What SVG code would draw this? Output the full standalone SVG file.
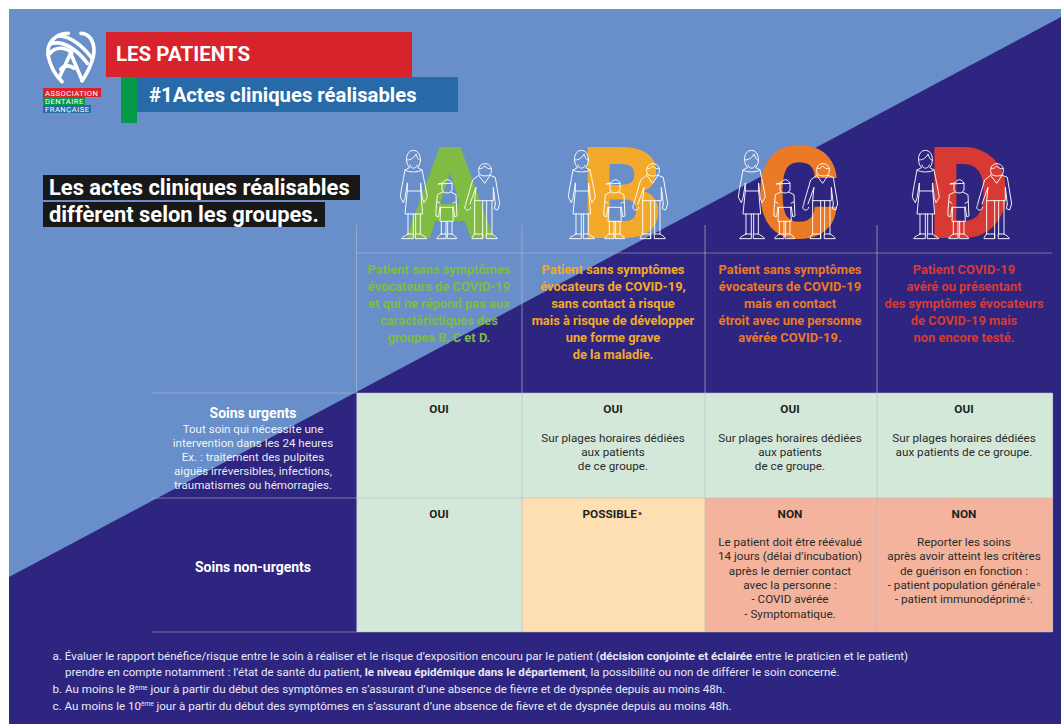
<svg xmlns="http://www.w3.org/2000/svg" xmlns:xlink="http://www.w3.org/1999/xlink" width="1061" height="724" viewBox="0 0 1061 724">
<style>
text{font-family:Roboto,"Liberation Sans",sans-serif}
.c{text-anchor:middle}
.b{font-weight:700}
.col{font-size:12.9px;font-weight:700;text-anchor:middle}
.cell{font-size:11.7px;fill:#2b2b2b;text-anchor:middle}
.yn{font-size:11.8px;font-weight:700;fill:#1f1f1f;text-anchor:middle}
.lab{fill:#fff;text-anchor:middle}
.fn{font-size:11.6px;fill:#e9e9f4}
.ltr{font-size:128px;font-weight:900;text-anchor:middle}
.fig{fill:none;stroke:#fff;stroke-width:2.8;stroke-linejoin:round;stroke-linecap:round}
.grid{stroke:#b8bcc4;stroke-opacity:.55;stroke-width:1.2;fill:none}
.logo{fill:none;stroke:#fff;stroke-width:11;stroke-linecap:round}
</style>
<defs>
<g id="family" class="fig" transform="translate(350 130) scale(.3333)">
<path d="M178 112C165 100 165 62 190 61C215 61 216 100 204 112M172 90C185 90 195 80 198 72C202 84 206 90 212 92M180 105C183 118 198 118 202 105"/>
<path d="M178 113L165 120C160 150 153 180 151 202L160 218L165 205L172 160M204 113L216 120C222 150 229 180 232 202L222 218L217 205L212 160M165 120C175 128 205 128 216 120M172 160L172 183L212 183L212 160M172 183L165 252L218 252L212 183"/>
<path d="M174 252V312M190 252V312M197 252V312M211 252V312M174 312H190V326H155C157 320 168 316 174 312ZM197 312H211C216 316 228 320 230 326H197Z"/>
<path d="M265 162L280 158C285 146 300 146 306 160L306 180C302 192 280 192 276 180L276 163M265 162L306 160"/>
<path d="M278 186L262 194L258 240L258 258L266 260L270 230L272 232H308L310 230L314 260L321 258L320 240L318 194L302 186M262 215L270 220M318 215L309 220M272 232L270 274H310L308 232"/>
<path d="M274 274V312M288 274V312M293 274V312M306 274V312M274 312H288V326H260C262 320 268 316 274 312ZM293 312H306C312 316 318 320 320 326H293Z"/>
<path d="M388 132C382 118 388 101 405 101C422 101 428 118 422 132C418 140 392 140 388 132ZM388 115C395 118 400 112 404 108C410 114 416 118 424 116"/>
<path d="M386 136L368 150L347 222M348 224A9 9 0 1 0 362 232M360 222L378 172L374 212H430L430 172L436 222M420 136L436 142L449 222L443 240L433 236L436 222M386 136L404 160L420 136"/>
<path d="M374 212V312M398 212V326M410 212V312M426 212V312M374 312H398V326H366C367 320 370 316 374 312ZM410 312H426C432 316 440 320 442 326H410Z"/>
</g>
</defs>

<g id="background">
<rect x="9" y="9" width="1052" height="715" fill="#688fc9"/>
<polygon points="9,577 1061,17 1061,724 9,724" fill="#2d2580"/>
</g>

<g id="logo">
<g transform="scale(.3333)" class="logo">
<path d="M144 165C140 130 165 100 205 100"/>
<path d="M144 165C150 195 165 225 186 245"/>
<path d="M243 100C270 100 288 130 280 170C272 200 258 225 246 243"/>
<path d="M150 132C190 118 232 150 262 190"/>
<path d="M175 108C210 106 250 140 274 172"/>
<path d="M150 160C165 140 195 140 215 158"/>
<path d="M180 228L212 160L246 240"/>
<path d="M182 208C195 195 210 195 222 205"/>
</g>
<rect x="43" y="88" width="58" height="9" fill="#d8232c"/>
<rect x="43" y="97" width="42" height="8" fill="#059a47"/>
<rect x="43" y="105" width="48" height="8" fill="#286aa7"/>
<text x="45" y="95.500" font-size="7.600" letter-spacing=".5" fill="#fff">ASSOCIATION</text>
<text x="45" y="103.500" font-size="7.600" letter-spacing=".5" fill="#fff">DENTAIRE</text>
<text x="45" y="111.500" font-size="7.600" letter-spacing=".5" fill="#fff">FRANÇAISE</text>
</g>

<g id="title">
<rect x="106" y="32" width="306" height="45" fill="#d8232c"/>
<rect x="137" y="77" width="321" height="35" fill="#286aa7"/>
<rect x="121" y="77" width="16" height="46" fill="#059a47"/>
<text x="116" y="61" font-size="20.500" class="b" fill="#fff">LES PATIENTS</text>
<text x="149" y="102" font-size="20.300" class="b" fill="#fff">#1Actes cliniques réalisables</text>
</g>

<g id="subtitle">
<rect x="43" y="175" width="317" height="25" fill="#181818"/>
<rect x="43" y="202" width="282" height="25" fill="#181818"/>
<text x="49" y="195" font-size="21.900" class="b" fill="#fff">Les actes cliniques réalisables</text>
<text x="49" y="222" font-size="21.900" class="b" fill="#fff">diffèrent selon les groupes.</text>
</g>

<g id="cells">
<rect x="357" y="393" width="165" height="105" fill="#d3e8d9"/>
<rect x="522" y="393" width="183" height="105" fill="#d3e8d9"/>
<rect x="705" y="393" width="172" height="105" fill="#d3e8d9"/>
<rect x="877" y="393" width="176" height="105" fill="#d3e8d9"/>
<rect x="357" y="498" width="165" height="134" fill="#d3e8d9"/>
<rect x="522" y="498" width="183" height="134" fill="#fddfb1"/>
<rect x="705" y="498" width="172" height="134" fill="#f3b39c"/>
<rect x="877" y="498" width="176" height="134" fill="#f3b39c"/>
</g>

<g id="connectors" class="grid">
<path d="M356.500 225V632M522 225V632M705 225V632M877 225V632M1052.500 393V632"/>
<path d="M356 253H1052M152 393H1052M152 498H1052M152 632H1052"/>
</g>

<g id="group-a">
<text x="450" y="238" class="ltr" fill="#7fbc41">A</text>
<use xlink:href="#family" href="#family"/>
<g class="col" fill="#7fbc41">
<text x="439" y="274">Patient sans symptômes</text>
<text x="439" y="291">évocateurs de COVID-19</text>
<text x="439" y="308">et qui ne répond pas aux</text>
<text x="439" y="325">caractéristiques des</text>
<text x="439" y="342">groupes B, C et D.</text>
</g>
</g>

<g id="group-b">
<text x="622" y="238" class="ltr" fill="#f3a929">B</text>
<use xlink:href="#family" href="#family" x="168"/>
<g class="col" fill="#f3a929">
<text x="613" y="274">Patient sans symptômes</text>
<text x="613" y="291">évocateurs de COVID-19,</text>
<text x="613" y="308">sans contact à risque</text>
<text x="613" y="325">mais à risque de développer</text>
<text x="613" y="342">une forme grave</text>
<text x="613" y="359">de la maladie.</text>
</g>
</g>

<g id="group-c">
<text x="798" y="238" class="ltr" fill="#ea7a26">C</text>
<use xlink:href="#family" href="#family" x="338"/>
<g class="col" fill="#ea7a26">
<text x="790" y="274">Patient sans symptômes</text>
<text x="790" y="291">évocateurs de COVID-19</text>
<text x="790" y="308">mais en contact</text>
<text x="790" y="325">étroit avec une personne</text>
<text x="790" y="342">avérée COVID-19.</text>
</g>
</g>

<g id="group-d">
<text x="969" y="238" class="ltr" fill="#d83a33">D</text>
<use xlink:href="#family" href="#family" x="512"/>
<g class="col" fill="#d83a33">
<text x="964" y="274">Patient COVID-19</text>
<text x="964" y="291">avéré ou présentant</text>
<text x="964" y="308">des symptômes évocateurs</text>
<text x="964" y="325">de COVID-19 mais</text>
<text x="964" y="342">non encore testé.</text>
</g>
</g>

<g id="row-urgent">
<text x="253" y="418" font-size="14" class="lab b">Soins urgents</text>
<g class="lab" font-size="11.600" fill-opacity=".92">
<text x="253" y="432.500">Tout soin qui nécessite une</text>
<text x="253" y="446.500">intervention dans les 24 heures</text>
<text x="253" y="461">Ex. : traitement des pulpites</text>
<text x="253" y="475">aiguës irréversibles, infections,</text>
<text x="253" y="489">traumatismes ou hémorragies.</text>
</g>
<text x="439" y="413" class="yn">OUI</text>
<text x="613" y="413" class="yn">OUI</text>
<text x="790" y="413" class="yn">OUI</text>
<text x="964" y="413" class="yn">OUI</text>
<g class="cell">
<text x="613" y="441.500">Sur plages horaires dédiées</text>
<text x="613" y="456">aux patients</text>
<text x="613" y="470">de ce groupe.</text>
<text x="790" y="441.500">Sur plages horaires dédiées</text>
<text x="790" y="456">aux patients</text>
<text x="790" y="470">de ce groupe.</text>
<text x="964" y="441.500">Sur plages horaires dédiées</text>
<text x="964" y="456">aux patients de ce groupe.</text>
</g>
</g>

<g id="row-non-urgent">
<text x="253" y="572" font-size="14" class="lab b">Soins non-urgents</text>
<text x="439" y="517.500" class="yn">OUI</text>
<text x="612" y="517.500" class="yn">POSSIBLE<tspan font-size="6" dy="-3"> a</tspan></text>
<text x="790" y="517.500" class="yn">NON</text>
<text x="964" y="517.500" class="yn">NON</text>
<g class="cell">
<text x="790" y="546">Le patient doit être réévalué</text>
<text x="790" y="560">14 jours (délai d’incubation)</text>
<text x="790" y="575">après le dernier contact</text>
<text x="790" y="589">avec la personne :</text>
<text x="790" y="603">- COVID avérée</text>
<text x="790" y="617.500">- Symptomatique.</text>
<text x="964" y="546">Reporter les soins</text>
<text x="964" y="560">après avoir atteint les critères</text>
<text x="964" y="575">de guérison en fonction :</text>
<text x="964" y="589">- patient population générale<tspan font-size="6" dy="-3"> b</tspan></text>
<text x="964" y="603">- patient immunodéprimé<tspan font-size="6" dy="-3"> c</tspan><tspan dy="3">.</tspan></text>
</g>
</g>

<g id="footnotes" class="fn">
<text x="52.500" y="659.500">a. Évaluer le rapport bénéfice/risque entre le soin à réaliser et le risque d’exposition encouru par le patient (<tspan class="b">décision conjointe et éclairée</tspan> entre le praticien et le patient)</text>
<text x="65" y="676">prendre en compte notamment : l’état de santé du patient, <tspan class="b">le niveau épidémique dans le département</tspan>, la possibilité ou non de différer le soin concerné.</text>
<text x="52.500" y="693">b. Au moins le 8<tspan font-size="6.500" dy="-3.500">ème</tspan><tspan dy="3.500"> jour à partir du début des symptômes en s’assurant d’une absence de fièvre et de dyspnée depuis au moins 48h.</tspan></text>
<text x="52.500" y="709.500">c. Au moins le 10<tspan font-size="6.500" dy="-3.500">ème</tspan><tspan dy="3.500"> jour à partir du début des symptômes en s’assurant d’une absence de fièvre et de dyspnée depuis au moins 48h.</tspan></text>
</g>
</svg>
